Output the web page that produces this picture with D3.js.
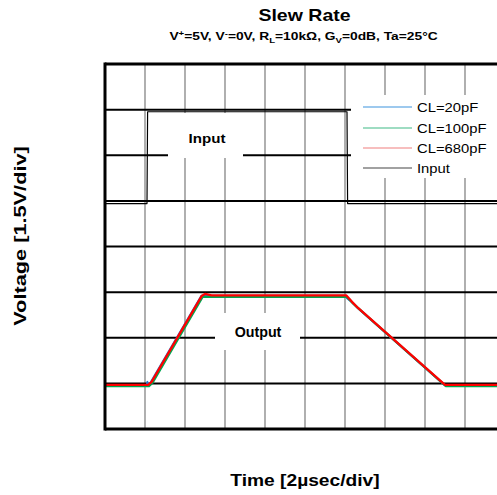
<!DOCTYPE html>
<html>
<head>
<meta charset="utf-8">
<script src="https://cdn.jsdelivr.net/npm/d3@7"></script>
<style>
  html, body { margin: 0; padding: 0; background: #fff; }
  svg { display: block; }
  text { font-family: "Liberation Sans", Arial, Helvetica, sans-serif; fill: #000; }
</style>
</head>
<body>
<div id="chart"></div>
<script>
// ---------------- DATA ----------------
const titleText = "Slew Rate";
const xLabelText = "Time [2\u00B5sec/div]";
const yLabelText = "Voltage [1.5V/div]";
const seriesNames = ["CL=20pF", "CL=100pF", "CL=680pF", "Input"];
const seriesColors = ["#1f78d1", "#00a651", "#ff0000", "#000000"];

// time in µs (2 µs/div), voltage in V on the 1.5 V/div screen scale
const xTicks = [0, 2, 4, 6, 8, 10, 12, 14, 16, 18, 20];
const yTicks = [0, 1.5, 3, 4.5, 6, 7.5, 9, 10.5, 12];

const cl20T = [0, 2.08, 2.12, 2.16, 2.3, 4.82, 12.05, 12.1, 12.35, 12.65, 17.0, 20];
const cl20V = [1.43, 1.43, 1.55, 1.43, 1.55, 4.38, 4.38, 4.30, 4.17, 3.97, 1.43, 1.43];

const cl100T = [0, 2.2, 2.38, 4.88, 12.1, 12.4, 12.7, 17.05, 20];
const cl100V = [1.41, 1.41, 1.52, 4.34, 4.34, 4.13, 3.95, 1.41, 1.41];

const cl680T = [0, 2.16, 2.33, 4.83, 5.0, 5.33, 12.07, 12.35, 12.65, 17.0, 20];
const cl680V = [1.45, 1.45, 1.55, 4.37, 4.44, 4.39, 4.39, 4.18, 3.98, 1.45, 1.45];

const inputT = [0, 2.1, 2.13, 12.1, 12.13, 20];
const inputV = [7.41, 7.41, 10.43, 10.43, 7.41, 7.41];

// ---------------- CHART ----------------
const W = 497, H = 495;
const svg = d3.select("#chart").append("svg").attr("width", W).attr("height", H);

const x = d3.scaleLinear().domain([0, 20]).range([105, 505]);
const y = d3.scaleLinear().domain([0, 12]).range([429, 64]);

function zip(ts, vs) { return ts.map((t, i) => ({ t: t, v: vs[i] })); }

function sText(parent, str, tx, ty, size, weight, sx, anchor, rot) {
  const tr = `translate(${tx},${ty})` + (rot ? ` rotate(${rot})` : "") + ` scale(${sx},1)`;
  return parent.append("text")
    .attr("transform", tr)
    .attr("text-anchor", anchor || "start")
    .style("font-size", size + "px")
    .style("font-weight", weight)
    .text(str);
}

// vertical grid (grey)
svg.append("g").selectAll("line").data(xTicks.filter(d => d > 0)).join("line")
  .attr("x1", d => x(d)).attr("x2", d => x(d))
  .attr("y1", y(12)).attr("y2", y(0))
  .attr("stroke", "#858585").attr("stroke-width", 1.3);

// horizontal grid (black)
svg.append("g").selectAll("line").data(yTicks.filter(d => d > 0 && d < 12)).join("line")
  .attr("x1", x(0)).attr("x2", x(20))
  .attr("y1", d => y(d)).attr("y2", d => y(d))
  .attr("stroke", "#000").attr("stroke-width", 2);

// white label boxes that interrupt the grid
svg.append("rect").attr("x", 168).attr("y", 113).attr("width", 75).attr("height", 45).attr("fill", "#fff");
svg.append("rect").attr("x", 215).attr("y", 313).attr("width", 85).attr("height", 37).attr("fill", "#fff");
svg.append("rect").attr("x", 351).attr("y", 95).attr("width", 160).attr("height", 83).attr("fill", "#fff");

sText(svg, "Input", 207, 143, 13.5, "bold", 1.12, "middle");
sText(svg, "Output", 258, 337, 14, "bold", 1.02, "middle");

// series
const line = d3.line().x(d => x(d.t)).y(d => y(d.v));
const series = [
  { data: zip(cl20T, cl20V), color: seriesColors[0], w: 2 },
  { data: zip(cl100T, cl100V), color: seriesColors[1], w: 2.2 },
  { data: zip(cl680T, cl680V), color: seriesColors[2], w: 2.3 },
  { data: zip(inputT, inputV), color: seriesColors[3], w: 1.2 }
];
svg.append("g").selectAll("path").data(series).join("path")
  .attr("d", d => line(d.data))
  .attr("fill", "none")
  .attr("stroke", d => d.color)
  .attr("stroke-width", d => d.w)
  .attr("stroke-linejoin", "round");

// borders
svg.append("line").attr("x1", x(0)).attr("x2", x(20)).attr("y1", y(12)).attr("y2", y(12))
  .attr("stroke", "#000").attr("stroke-width", 3);
svg.append("line").attr("x1", x(0)).attr("x2", x(20)).attr("y1", y(0)).attr("y2", y(0))
  .attr("stroke", "#000").attr("stroke-width", 3);
svg.append("line").attr("x1", x(0)).attr("x2", x(0)).attr("y1", y(12) - 1.5).attr("y2", y(0) + 1.5)
  .attr("stroke", "#000").attr("stroke-width", 3);

// legend
const lg = svg.append("g");
const rowY = [107, 128, 148, 168];
const legendColors = ["#3d93dd", "#3fb985", "#f07f7f", "#444"];
seriesNames.forEach((name, i) => {
  lg.append("line").attr("x1", 363).attr("x2", 412).attr("y1", rowY[i]).attr("y2", rowY[i])
    .attr("stroke", legendColors[i]).attr("stroke-width", 1.2);
  sText(lg, name, 417, rowY[i] + 5, 13, "normal", 1.14, "start");
});

// titles
sText(svg, titleText, 304.5, 20.5, 16, "bold", 1.22, "middle");
const sub = svg.append("text")
  .attr("transform", "translate(303.5,40) scale(1.2,1)")
  .attr("text-anchor", "middle")
  .style("font-size", "11.5px").style("font-weight", "bold");
const parts = [
  ["V", 0, 11.5], ["+", -4, 8], ["=5V, V", 4, 11.5], ["-", -4, 8], ["=0V, R", 4, 11.5],
  ["L", 3, 8], ["=10k\u03A9, G", -3, 11.5], ["V", 3, 8], ["=0dB, Ta=25\u00B0C", -3, 11.5]
];
parts.forEach(p => {
  sub.append("tspan").attr("dy", p[1]).style("font-size", p[2] + "px").text(p[0]);
});

// axis labels
sText(svg, xLabelText, 305, 486, 16, "bold", 1.2, "middle");
sText(svg, yLabelText, 25.5, 236, 16, "bold", 1.36, "middle", -90);
</script>
</body>
</html>
